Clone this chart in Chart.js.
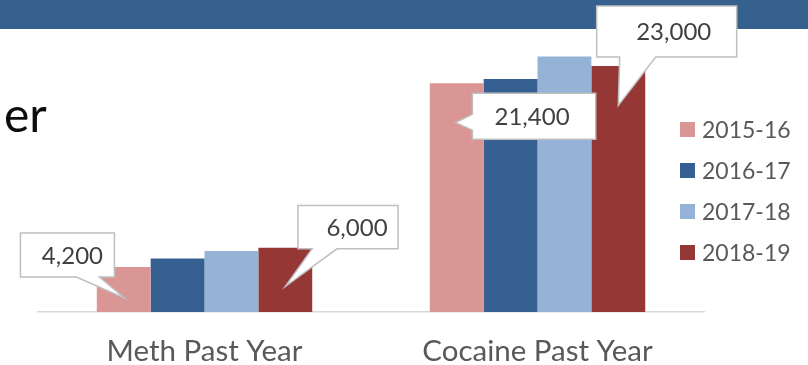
<!DOCTYPE html>
<html>
<head>
<meta charset="utf-8">
<script src="https://cdn.jsdelivr.net/npm/chart.js@4"></script>
<style>
  html, body { margin: 0; padding: 0; background: #fff; }
  #wrap { position: relative; width: 808px; height: 365px; }
</style>
</head>
<body>
<div id="wrap"><canvas id="chart" width="808" height="365"></canvas></div>
<script>
// Catégories et séries
const categories = ['Meth Past Year', 'Cocaine Past Year'];
const seriesLabels = ['2015-16', '2016-17', '2017-18', '2018-19'];
const values2015 = [4200, 21400];
const values2016 = [5000, 21800];
const values2017 = [5700, 23900];
const values2018 = [6000, 23000];
const seriesColors = ['#D99694', '#376092', '#95B3D7', '#953735'];

const FONT = 'Lato';
const TEXT = '#595959';

// Bulles de valeur : dataset, catégorie, pointe relative au haut de la barre,
// boîte relative à la pointe, queue sur un côté
const callouts = [
  { ds: 0, cat: 0, tip: [1, 31],  box: [-104.3, -65, 94, 44],  side: 'bottom', tail: [56, 79],  textDx: 5 },
  { ds: 3, cat: 0, tip: [0, 38.7], box: [12.7, -81, 100, 43.3], side: 'bottom', tail: [14, 39],  textDx: 9 },
  { ds: 0, cat: 1, tip: [-1, 39.4], box: [16.7, -29.4, 123.3, 46], side: 'left', tail: [21, 37], textDx: -2 },
  { ds: 3, cat: 1, tip: [0, 39.3], box: [-21.6, -99.3, 140, 51], side: 'bottom', tail: [23, 59], textDx: 7 }
];

const allSeries = [values2015, values2016, values2017, values2018];

// Bandeau du haut + fond
const backdrop = {
  id: 'backdrop',
  beforeDraw(chart) {
    const ctx = chart.ctx;
    ctx.save();
    ctx.fillStyle = '#fff';
    ctx.fillRect(0, 0, chart.width, chart.height);
    ctx.fillStyle = '#36618F';
    ctx.fillRect(0, 0, chart.width, 29);
    ctx.fillStyle = '#0d0d0d';
    ctx.font = '48px ' + FONT;
    ctx.textBaseline = 'alphabetic';
    ctx.fillText('er', 4, 132);
    ctx.restore();
  }
};

function calloutPath(ctx, x, y, w, h, side, tail, tx, ty) {
  ctx.beginPath();
  ctx.moveTo(x, y);
  ctx.lineTo(x + w, y);
  ctx.lineTo(x + w, y + h);
  if (side === 'bottom') {
    ctx.lineTo(x + tail[1], y + h);
    ctx.lineTo(tx, ty);
    ctx.lineTo(x + tail[0], y + h);
    ctx.lineTo(x, y + h);
  } else {
    ctx.lineTo(x, y + h);
    ctx.lineTo(x, y + tail[1]);
    ctx.lineTo(tx, ty);
    ctx.lineTo(x, y + tail[0]);
  }
  ctx.closePath();
}

const overlay = {
  id: 'overlay',
  afterDraw(chart) {
    const ctx = chart.ctx;
    ctx.save();

    // bulles
    callouts.forEach(c => {
      const bar = chart.getDatasetMeta(c.ds).data[c.cat];
      const tx = bar.x + c.tip[0];
      const ty = bar.y + c.tip[1];
      const bx = tx + c.box[0], by = ty + c.box[1], bw = c.box[2], bh = c.box[3];
      calloutPath(ctx, bx, by, bw, bh, c.side, c.tail, tx, ty);
      ctx.fillStyle = '#fff';
      ctx.fill();
      ctx.strokeStyle = '#BFBFBF';
      ctx.lineWidth = 1.5;
      ctx.stroke();
      const val = chart.data.datasets[c.ds].data[c.cat];
      ctx.fillStyle = '#404040';
      ctx.font = '24px ' + FONT;
      ctx.textAlign = 'center';
      ctx.textBaseline = 'alphabetic';
      ctx.fillText(val.toLocaleString('en-US'), bx + bw / 2 + c.textDx, by + bh / 2 + 8.5);
    });

    // légende
    ctx.font = '23px ' + FONT;
    ctx.textAlign = 'left';
    chart.data.datasets.forEach((d, i) => {
      const cy = 129.5 + i * 41;
      ctx.fillStyle = d.backgroundColor;
      ctx.fillRect(680, cy - 7.5, 15, 15);
      ctx.fillStyle = TEXT;
      ctx.fillText(d.label, 702, cy + 8.5);
    });
    ctx.restore();
  }
};

new Chart(document.getElementById('chart'), {
  type: 'bar',
  data: {
    labels: categories,
    datasets: seriesLabels.map((lbl, i) => ({
      label: lbl,
      data: allSeries[i],
      backgroundColor: seriesColors[i],
      borderWidth: 0,
      barPercentage: 1,
      categoryPercentage: 0.647
    }))
  },
  options: {
    responsive: false,
    animation: false,
    layout: { padding: { left: 38, right: 104, top: 34, bottom: 0 } },
    plugins: { legend: { display: false }, tooltip: { enabled: false } },
    scales: {
      x: {
        grid: { display: true, drawOnChartArea: false, drawTicks: false, color: 'rgba(0,0,0,0)' },
        border: { display: true, color: '#D9D9D9', width: 1.5 },
        ticks: { color: TEXT, font: { family: FONT, size: 29.5, lineHeight: 1 }, padding: 25 },
        afterFit(scale) { scale.height = 53; }
      },
      y: { display: false, min: 0, max: 26000 }
    }
  },
  plugins: [backdrop, overlay]
});
</script>
</body>
</html>
